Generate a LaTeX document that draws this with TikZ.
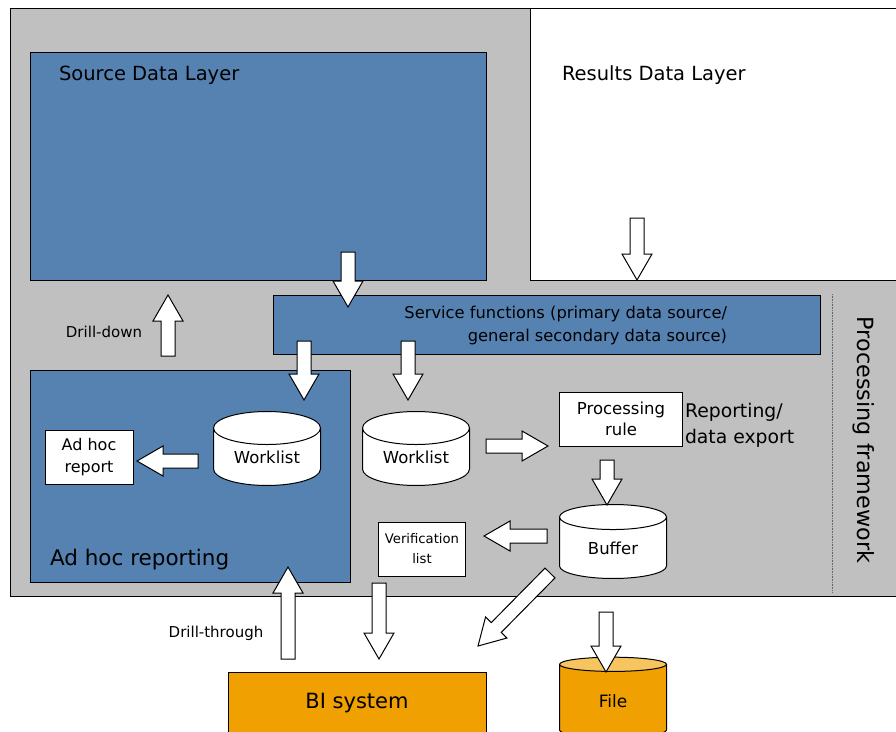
\documentclass[tikz,border=0pt]{standalone}
\usepackage{fontspec}
\setmainfont{DejaVu Sans}
\usetikzlibrary{positioning, calc, shapes.geometric}
\definecolor{layerBlue}{HTML}{5682B1}
\definecolor{frameGray}{HTML}{C0C0C0}
\definecolor{biOrange}{HTML}{F0A000}
\definecolor{fileTop}{HTML}{F7C560}
\newcommand{\fs}[1]{\fontsize{#1}{#1}\selectfont}
\newcommand{\fsl}[2]{\fontsize{#1}{#2}\selectfont}

\begin{document}
\begin{tikzpicture}[x=1pt, y=-1pt, line width=1pt,
      every node/.style={inner sep=0pt, outer sep=0pt},
      area/.style={draw, anchor=north west},
      box/.style={draw, fill=white, align=center},
      drum/.style={cylinder, shape border rotate=90, shape aspect=0.5, draw, fill=white,
        minimum width=107pt, minimum height=74pt, font=\fs{16.5}},
      barrow/.style={draw, fill=white, line join=miter,
        to path={let \p1=(\tikztostart), \p2=(\tikztotarget),
          \n1={veclen(\x2-\x1,\y2-\y1)}, \n2={(\x2-\x1)/(\n1)}, \n3={(\y2-\y1)/(\n1)},
          \n4={\n1-26} in
          ({\x1-7*(\n3)},{\y1+7*(\n2)})
          -- ({\x1+(\n4)*(\n2)-7*(\n3)},{\y1+(\n4)*(\n3)+7*(\n2)})
          -- ({\x1+(\n4)*(\n2)-15*(\n3)},{\y1+(\n4)*(\n3)+15*(\n2)})
          -- (\tikztotarget)
          -- ({\x1+(\n4)*(\n2)+15*(\n3)},{\y1+(\n4)*(\n3)-15*(\n2)})
          -- ({\x1+(\n4)*(\n2)+7*(\n3)},{\y1+(\n4)*(\n3)-7*(\n2)})
          -- ({\x1+7*(\n3)},{\y1-7*(\n2)}) -- cycle}}]
  \useasboundingbox (0,0) rectangle (896,731);

  % layers
  \node[area, fill=frameGray, minimum width=890pt, minimum height=588pt] (frame) at (10,8) {};
  \node[area, fill=white, minimum width=372pt, minimum height=272pt] (res) at (530,8) {};
  \node[area, fill=layerBlue, minimum width=456pt, minimum height=228pt] (src) at (30,52) {};
  \node[area, fill=layerBlue, minimum width=547pt, minimum height=59pt] (svc) at (273,295) {};
  \node[area, fill=layerBlue, minimum width=320pt, minimum height=212pt] (adhoc) at (30,370) {};
  \node[anchor=west, font=\fs{19.5}] (srct) at (59,75) {Source Data Layer};
  \node[anchor=west, font=\fs{19.5}] (rest) at (562,75) {Results Data Layer};
  \node[anchor=east, align=right, font=\fsl{16.3}{23}] (svct) at (727,325)
    {Service functions (primary data source/\\general secondary data source)};
  \node[anchor=west, font=\fs{21.5}] (adhoct) at (50,560) {Ad hoc reporting};
  \draw[densely dotted, line width=0.6pt, black!60] (832,294) -- (832,593);
  \node[rotate=-90, font=\fs{22.3}] (pf) at (864,440) {Processing framework};

  % stores and steps
  \node[box, minimum width=88pt, minimum height=54pt, font=\fsl{16}{22}] (rep) at (89,457) {Ad hoc\\report};
  \node[drum] (wl1) at (267,457) {Worklist};
  \node[drum] (wl2) at (416,457) {Worklist};
  \node[box, minimum width=123pt, minimum height=54pt, font=\fsl{16.5}{21}] (rule) at (621,419) {Processing\\rule};
  \node[anchor=base west, align=left, font=\fsl{18.8}{26}] (exp) at (685,443) {Reporting/\\data export};
  \node[drum] (buf) at (613,548) {Buffer};
  \node[box, minimum width=87pt, minimum height=54pt, font=\fsl{13.2}{20}] (ver) at (422,549) {Verification\\list};
  \node[font=\fs{15}] (dd) at (104,332) {Drill-down};
  \node[font=\fs{15}] (dt) at (216,633) {Drill-through};
  \node[area, fill=biOrange, minimum width=258pt, minimum height=62pt, font=\fs{21}] (bi) at (228,672) {BI system};
  \node[drum, fill=none, cylinder uses custom fill, cylinder body fill=biOrange, cylinder end fill=fileTop,
    minimum height=80pt, font=\fs{17}] (file) at (613,701) {File};

  % arrow ends
  \coordinate (a1) at (348,252); \coordinate (b1) at (348,307);
  \coordinate (a2) at (637,218); \coordinate (b2) at (637,280);
  \coordinate (a3) at (168,356); \coordinate (b3) at (168,295);
  \coordinate (a4) at (304,341); \coordinate (b4) at (304,400);
  \coordinate (a5) at (408,341); \coordinate (b5) at (408,400);
  \coordinate (a6) at (198,461); \coordinate (b6) at (137,461);
  \coordinate (a7) at (486,446); \coordinate (b7) at (548,446);
  \coordinate (a8) at (607,460); \coordinate (b8) at (607,505);
  \coordinate (a9) at (547,536); \coordinate (b9) at (484,536);
  \coordinate (a10) at (288,659); \coordinate (b10) at (288,567);
  \coordinate (a11) at (379,583); \coordinate (b11) at (379,659);
  \coordinate (a12) at (550,573); \coordinate (b12) at (478,646);
  \coordinate (a13) at (606,612); \coordinate (b13) at (606,672);

  \foreach \i in {1,...,13} {\draw[barrow] (a\i) to (b\i);}
\end{tikzpicture}
\end{document}
